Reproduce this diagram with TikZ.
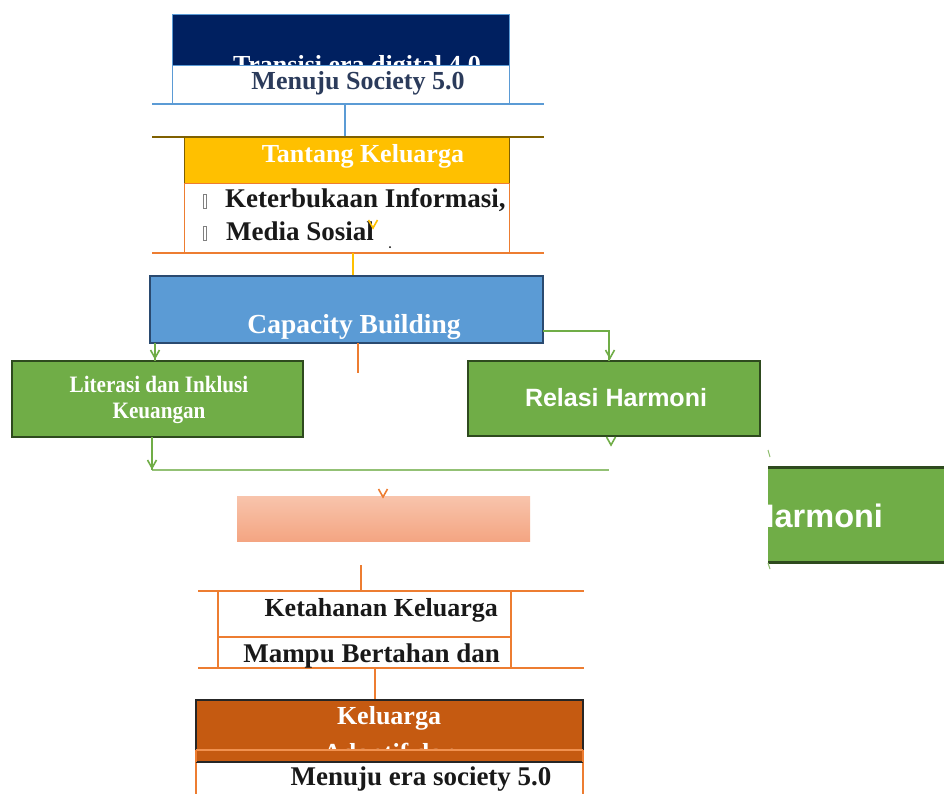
\documentclass[tikz,border=0pt]{standalone}
\usepackage{fontspec}
\setmainfont{Liberation Serif}
\newfontfamily\sansb{Liberation Sans}
\newfontfamily\condser[FakeStretch=0.9]{Liberation Serif}
\newcommand\fsz[1]{\fontsize{#1}{#1}\selectfont}
\definecolor{navyc}{HTML}{002060}
\definecolor{blueline}{HTML}{5B9BD5}
\definecolor{slatec}{HTML}{2B3B5B}
\definecolor{olivec}{HTML}{7F6000}
\definecolor{yellowc}{HTML}{FFC000}
\definecolor{orline}{HTML}{ED7D31}
\definecolor{capblue}{HTML}{5B9BD5}
\definecolor{capborder}{HTML}{2A4A70}
\definecolor{greenc}{HTML}{70AD47}
\definecolor{gborder}{HTML}{2E4A1E}
\definecolor{brownc}{HTML}{C55A11}
\definecolor{salmtop}{HTML}{F8C4AC}
\definecolor{salmbot}{HTML}{F4A582}
\begin{document}
\begin{tikzpicture}[x=1pt,y=-1pt,
  boxc/.style={inner sep=0pt, outer sep=0pt, anchor=north west},
  txt/.style={inner sep=0pt, anchor=base, font=\bfseries\fsz{26}},
  gline/.style={draw=greenc, line width=1.6pt},
  oline/.style={draw=orline, line width=1.4pt},
  chev/.pic={\draw[line width=1.6pt] (-4.5,-8) -- (0,0) -- (4.5,-8);}]
\clip (0,0) rectangle (944,793);
\fill[white] (0,0) rectangle (944,793);

% ---- top block
\node[boxc, fill=navyc, draw=blueline, line width=1pt, minimum width=337pt, minimum height=51pt] (navy) at (172,14) {};
\begin{scope}
\clip (172,14) rectangle (509,65);
\node[txt, text=white] (t1) at (357,73) {Transisi era digital 4.0};
\end{scope}
\node[boxc, fill=white, draw=blueline, line width=1pt, minimum width=337pt, minimum height=39pt] (soc) at (172,65) {};
\node[txt, text=slatec] (t2) at (358,89) {Menuju Society 5.0};
\coordinate (bl1) at (152,104);
\coordinate (bl2) at (544,104);
\draw[blueline, line width=1.4pt] (bl1) -- (bl2);
\coordinate (b1) at (345,104);
\coordinate (b2) at (345,137);
\draw[blueline, line width=1.4pt] (b1) -- (b2);

% ---- Tantang block
\coordinate (ol1) at (152,137);
\coordinate (ol2) at (544,137);
\draw[olivec, line width=1.4pt] (ol1) -- (ol2);
\node[boxc, fill=yellowc, draw=olivec, line width=1pt, minimum width=325pt, minimum height=46pt] (tan) at (184,137) {};
\node[txt, text=white] (t3) at (363,162) {Tantang Keluarga};
\node[boxc, fill=white, draw=orline, line width=1pt, minimum width=325pt, minimum height=70pt] (chal) at (184,183) {};
\node[txt, anchor=base west, text=black!90, font=\bfseries\fsz{27}] (t4) at (225,207) {Keterbukaan Informasi,};
\node[txt, anchor=base west, text=black!90, font=\bfseries\fsz{27}] (t5) at (226,240) {Media Sosial};
\draw[gray, line width=0.7pt] (203,194) rectangle (206,208);
\draw[gray, line width=0.7pt] (203,226) rectangle (206,240);
\draw[yellowc] (373,228) pic {chev};
\fill[black] (390,247) circle (1);
\coordinate (or1) at (152,253);
\coordinate (or2) at (544,253);
\draw[oline] (or1) -- (or2);
\coordinate (y1) at (353,253);
\coordinate (y2) at (353,276);
\draw[yellowc, line width=1.4pt] (y1) -- (y2);

% ---- Capacity building
\node[boxc, fill=capblue, draw=capborder, line width=1.3pt, minimum width=393pt, minimum height=67pt] (cap) at (150,276) {};
\node[txt, text=white, font=\bfseries\fsz{27.5}] (t6) at (354,333) {Capacity Building};
\coordinate (os1) at (358,343);
\coordinate (os2) at (358,373);
\draw[oline] (os1) -- (os2);

% ---- green boxes
\node[boxc, fill=greenc, draw=gborder, line width=1.3pt, minimum width=291pt, minimum height=76pt] (lit) at (12,361) {};
\node[inner sep=0pt, anchor=base, text=white, font=\condser\bfseries\fsz{23.5}] (t7) at (159,392) {Literasi dan Inklusi};
\node[inner sep=0pt, anchor=base, text=white, font=\condser\bfseries\fsz{23.5}] (t8) at (159,418) {Keuangan};
\node[boxc, fill=greenc, draw=gborder, line width=1.3pt, minimum width=292pt, minimum height=75pt] (rel) at (468,361) {};
\node[inner sep=0pt, anchor=base, text=white, font=\sansb\bfseries\fsz{25}] (t9) at (616,406) {Relasi Harmoni};

% green connectors
\coordinate (g1) at (155,343);
\coordinate (g2) at (155,361);
\draw[gline] (g1) -- (g2);
\draw[greenc] (155,358) pic {chev};
\coordinate (g3) at (543,331);
\coordinate (g4) at (609,331);
\coordinate (g5) at (609,361);
\draw[gline] (g3) -- (g4) -- (g5);
\draw[greenc] (610,358) pic {chev};
\draw[greenc] (611,445) pic {chev};
\coordinate (g6) at (152,437);
\coordinate (g7) at (152,470);
\coordinate (g8) at (609,470);
\draw[gline] (g6) -- (g7);
\draw[gline, draw opacity=0.75] (g7) -- (g8);
\draw[greenc] (152,468) pic {chev};

% ---- big right green box (cut)
\begin{scope}
\clip (768,440) rectangle (944,600);
\node[boxc, fill=greenc, minimum width=200pt, minimum height=95pt] (big) at (768,467) {};
\draw[gborder, line width=3pt] (big.north west) -- (big.north east);
\draw[gborder, line width=3pt] (big.south west) -- (big.south east);
\node[inner sep=0pt, anchor=base west, text=white, font=\sansb\bfseries\fsz{32.5}] (t10) at (751,527) {Harmoni};
\end{scope}
\draw[greenc!80, line width=1pt] (768,450) -- (770,457);
\draw[greenc!80, line width=1pt] (768,563) -- (770,569);

% ---- salmon box
\node[boxc, top color=salmtop, bottom color=salmbot, minimum width=293pt, minimum height=45pt] (salm) at (237,496) {};
\draw[orline] (383,497) pic {chev};

% ---- Ketahanan block
\coordinate (k0) at (361,565);
\coordinate (k1) at (361,591);
\draw[oline] (k0) -- (k1);
\coordinate (kl1) at (198,591);
\coordinate (kl2) at (584,591);
\coordinate (kl3) at (198,668);
\coordinate (kl4) at (584,668);
\draw[oline] (kl1) -- (kl2);
\draw[oline] (kl3) -- (kl4);
\node[boxc, draw=orline, line width=1.4pt, minimum width=293pt, minimum height=46pt] (keta) at (218,591) {};
\node[boxc, draw=orline, line width=1.4pt, minimum width=293pt, minimum height=31pt] (mamp) at (218,637) {};
\node[txt, anchor=base east, text=black!90] (t11) at (498,616) {Ketahanan Keluarga};
\node[txt, anchor=base east, text=black!90, font=\bfseries\fsz{27}] (t12) at (500,662) {Mampu Bertahan dan};
\coordinate (k2) at (375,668);
\coordinate (k3) at (375,700);
\draw[oline] (k2) -- (k3);

% ---- bottom brown block
\node[boxc, fill=brownc, draw=black!85, line width=1.3pt, minimum width=387pt, minimum height=62pt] (kel) at (196,700) {};
\node[txt, text=white] (t13) at (389,724) {Keluarga};
\begin{scope}
\clip (196,700) rectangle (583,749);
\node[txt, text=white] (t14) at (390,761) {Adaptif dan};
\end{scope}
\coordinate (a1) at (196,750);
\coordinate (a2) at (583,750);
\draw[orline!85!white, line width=1.4pt] (a1) -- (a2);
\node[boxc, fill=white, draw=orline, line width=1.4pt, minimum width=387pt, minimum height=60pt] (era) at (196,762) {};
\draw[black!85, line width=1.3pt] (era.north west) -- (era.north east);
\draw[orline, line width=1.4pt] (a1) -- (era.north west);
\draw[orline, line width=1.4pt] (a2) -- (era.north east);
\node[txt, text=black!90, font=\bfseries\fsz{27}] (t15) at (421,785) {Menuju era society 5.0};
\end{tikzpicture}
\end{document}
